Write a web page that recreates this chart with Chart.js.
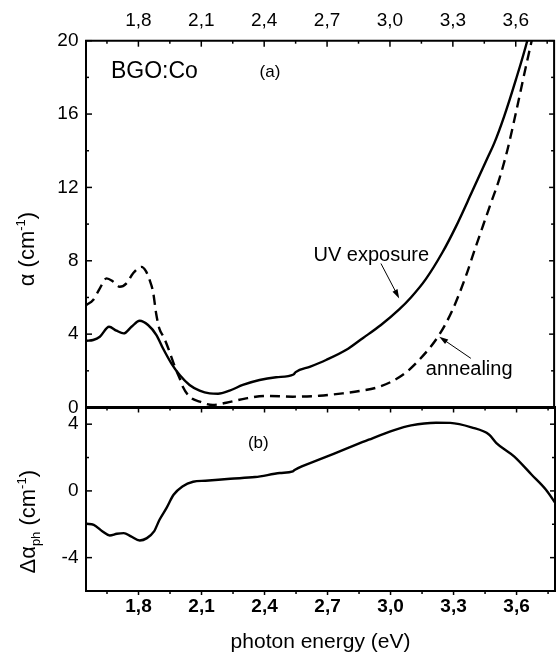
<!DOCTYPE html>
<html lang="en">
<head>
  <meta charset="UTF-8" />
  <title>BGO:Co absorption</title>
  <script src="https://cdn.jsdelivr.net/npm/chart.js"></script>
  <style>
    html, body { margin: 0; padding: 0; background: #fff; }
    .wrap { position: relative; width: 556px; height: 655px; }
    .wrap canvas { position: absolute; left: 0; top: 0; }
  </style>
</head>
<body>
  <div class="wrap">
    <canvas id="top-chart" width="556" height="655"></canvas>
    <canvas id="bottom-chart" width="556" height="655"></canvas>
  </div>

  <script>
    // (a) absorption after UV exposure (solid) and after annealing (dashed), cm^-1
    const energyUV = [1.552, 1.584, 1.616, 1.66, 1.695, 1.73, 1.767, 1.806, 1.846, 1.886, 1.917, 1.957, 1.997, 2.044, 2.092, 2.14, 2.18, 2.235, 2.298, 2.378, 2.457, 2.54, 2.55, 2.62, 2.695, 2.79, 2.87, 2.957, 3.044, 3.1, 3.171, 3.25, 3.314, 3.393, 3.465, 3.497, 3.544, 3.6, 3.655, 3.68];
    const alphaUV = [3.64, 3.68, 3.86, 4.40, 4.19, 4.04, 4.40, 4.73, 4.50, 3.95, 3.23, 2.41, 1.77, 1.23, 0.92, 0.77, 0.75, 0.92, 1.23, 1.50, 1.65, 1.80, 1.93, 2.23, 2.59, 3.13, 3.78, 4.50, 5.35, 6.0, 7.0, 8.45, 9.85, 11.8, 13.6, 14.4, 15.85, 17.85, 20.0, 21.2];

    const energyAnneal = [1.552, 1.584, 1.616, 1.648, 1.68, 1.711, 1.743, 1.774, 1.814, 1.835, 1.855, 1.87, 1.885, 1.9, 1.92, 1.94, 1.965, 1.98, 2.0, 2.012, 2.044, 2.092, 2.155, 2.219, 2.314, 2.41, 2.536, 2.663, 2.774, 2.854, 2.949, 3.06, 3.139, 3.234, 3.298, 3.361, 3.409, 3.445, 3.481, 3.52, 3.56, 3.6, 3.648, 3.676, 3.70];
    const alphaAnneal = [5.59, 5.86, 6.50, 7.04, 6.86, 6.58, 6.77, 7.31, 7.67, 7.45, 6.9, 6.3, 5.1, 4.3, 3.85, 3.3, 2.5, 2.04, 1.5, 1.13, 0.59, 0.32, 0.14, 0.26, 0.5, 0.63, 0.59, 0.64, 0.77, 0.9, 1.13, 1.77, 2.59, 3.95, 5.31, 7.13, 8.76, 9.95, 11.13, 12.4, 14.03, 16.03, 18.57, 20.0, 21.3];

    // (b) photoinduced change
    const energyDiff = [1.553, 1.587, 1.629, 1.663, 1.697, 1.73, 1.764, 1.806, 1.84, 1.874, 1.9, 1.933, 1.967, 2.009, 2.06, 2.119, 2.237, 2.355, 2.473, 2.535, 2.545, 2.659, 2.778, 2.896, 3.014, 3.098, 3.217, 3.284, 3.385, 3.47, 3.504, 3.588, 3.672, 3.74, 3.79];
    const deltaAlpha = [-1.97, -2.03, -2.43, -2.67, -2.57, -2.53, -2.73, -2.97, -2.83, -2.43, -1.73, -1.03, -0.23, 0.27, 0.55, 0.61, 0.73, 0.83, 1.07, 1.17, 1.27, 1.87, 2.47, 3.07, 3.63, 3.93, 4.09, 4.08, 3.81, 3.37, 2.87, 2.07, 0.97, 0.07, -0.83];

    // axes
    const energyMajor = [1.8, 2.1, 2.4, 2.7, 3.0, 3.3, 3.6];
    const energyLabels = ['1,8', '2,1', '2,4', '2,7', '3,0', '3,3', '3,6'];
    const energyMinor = [1.65, 1.95, 2.25, 2.55, 2.85, 3.15, 3.45, 3.75];
    const alphaMajor = [0, 4, 8, 12, 16, 20];
    const alphaMinor = [2, 6, 10, 14, 18];
    const deltaMajor = [-4, 0, 4];
    const deltaMinor = [-2, 2];

    const FONT = '"Liberation Sans", Arial, sans-serif';
    Chart.defaults.font.family = FONT;
    Chart.defaults.color = '#000';

    const E_MIN = 1.55, E_MAX = 3.783;
    const TOP_Y = 40.7, MID_Y = 407.5, BOT_Y = 591, LEFT_X = 86, RIGHT_PAD = 1;

    const pairs = (xs, ys) => xs.map((x, i) => ({x: x, y: ys[i]}));

    function tickSetter(major, minor) {
      return scale => {
        scale.ticks = major.map(v => ({value: v, isMajor: true}))
          .concat(minor.map(v => ({value: v, isMajor: false})))
          .sort((a, b) => a.value - b.value);
      };
    }

    function energyLabel(v) {
      const i = energyMajor.indexOf(v);
      return i < 0 ? '' : energyLabels[i];
    }

    // inward/outward tick marks along an edge
    function tickMarks(ctx, scale, edge, dir, majLen, minLen) {
      const horiz = scale.isHorizontal();
      scale.ticks.forEach(t => {
        const p = scale.getPixelForValue(t.value);
        const len = t.isMajor ? majLen : minLen;
        ctx.beginPath();
        if (horiz) { ctx.moveTo(p, edge); ctx.lineTo(p, edge + dir * len); }
        else { ctx.moveTo(edge, p); ctx.lineTo(edge + dir * len, p); }
        ctx.stroke();
      });
    }

    function axisTitle(ctx, x, yMid, parts) {
      ctx.save();
      let total = 0;
      parts.forEach(p => {
        ctx.font = p.size + 'px ' + FONT;
        p.w = ctx.measureText(p.text).width;
        total += p.w;
      });
      ctx.translate(x, yMid);
      ctx.rotate(-Math.PI / 2);
      ctx.fillStyle = '#000';
      ctx.textBaseline = 'alphabetic';
      let u = -total / 2;
      parts.forEach(p => {
        ctx.font = p.size + 'px ' + FONT;
        ctx.fillText(p.text, u, p.shift || 0);
        u += p.w;
      });
      ctx.restore();
    }

    function arrow(ctx, x1, y1, x2, y2) {
      const ang = Math.atan2(y2 - y1, x2 - x1);
      ctx.beginPath();
      ctx.moveTo(x1, y1);
      ctx.lineTo(x2 - 6 * Math.cos(ang), y2 - 6 * Math.sin(ang));
      ctx.stroke();
      ctx.beginPath();
      ctx.moveTo(x2, y2);
      ctx.lineTo(x2 - 9 * Math.cos(ang) + 2.8 * Math.sin(ang), y2 - 9 * Math.sin(ang) - 2.8 * Math.cos(ang));
      ctx.lineTo(x2 - 9 * Math.cos(ang) - 2.8 * Math.sin(ang), y2 - 9 * Math.sin(ang) + 2.8 * Math.cos(ang));
      ctx.closePath();
      ctx.fill();
    }

    const topNotes = [
      {text: 'BGO:Co', e: 1.669, v: 18.3, size: 23},
      {text: '(a)', e: 2.378, v: 18.3, size: 17},
      {text: 'UV exposure', e: 2.635, v: 8.3, size: 20},
      {text: 'annealing', e: 3.171, v: 2.05, size: 20}
    ];
    const topArrows = [
      {from: [2.957, 7.85], to: [3.044, 5.95]},
      {from: [3.386, 2.68], to: [3.235, 3.86]}
    ];

    const lineStyle = {
      borderColor: '#000',
      borderWidth: 2.4,
      pointRadius: 0,
      fill: false,
      cubicInterpolationMode: 'monotone'
    };

    const energyTicks = (opts) => Object.assign({
      autoSkip: false,
      maxRotation: 0,
      callback: v => energyLabel(v)
    }, opts);

    const topChart = new Chart(document.getElementById('top-chart'), {
      type: 'line',
      data: {
        datasets: [
          Object.assign({label: 'UV exposure', data: pairs(energyUV, alphaUV)}, lineStyle),
          Object.assign({label: 'annealing', data: pairs(energyAnneal, alphaAnneal), borderDash: [10, 6]}, lineStyle)
        ]
      },
      options: {
        responsive: false,
        animation: false,
        devicePixelRatio: 1,
        layout: { padding: { left: 0, right: RIGHT_PAD, top: 0, bottom: 655 - MID_Y } },
        plugins: { legend: { display: false }, tooltip: { enabled: false } },
        scales: {
          x: {
            type: 'linear', position: 'top', min: E_MIN, max: E_MAX,
            afterBuildTicks: tickSetter(energyMajor, energyMinor),
            afterFit: s => { s.height = TOP_Y; },
            grid: { display: false, drawTicks: false },
            border: { display: false },
            ticks: energyTicks({ font: { size: 19 }, padding: 8.8 })
          },
          y: {
            type: 'linear', min: 0, max: 20,
            afterBuildTicks: tickSetter(alphaMajor, alphaMinor),
            afterFit: s => { s.width = LEFT_X; },
            grid: { display: false, drawTicks: false },
            border: { display: false },
            ticks: { font: { size: 19 }, padding: 7.5, callback: (v, i, t) => t[i].isMajor ? String(v) : '' }
          }
        }
      },
      plugins: [{
        id: 'topFrame',
        afterDraw(chart) {
          const {ctx, chartArea: a, scales} = chart;
          ctx.save();
          ctx.strokeStyle = '#000';
          ctx.fillStyle = '#000';
          ctx.lineWidth = 2;
          ctx.beginPath();
          ctx.moveTo(a.left, a.bottom);
          ctx.lineTo(a.left, a.top);
          ctx.lineTo(a.right, a.top);
          ctx.lineTo(a.right, a.bottom);
          ctx.stroke();
          ctx.lineWidth = 1.5;
          tickMarks(ctx, scales.x, a.top, 1, 6, 3);
          tickMarks(ctx, scales.y, a.left, 1, 6, 3);
          tickMarks(ctx, scales.y, a.right, -1, 5, 3);

          ctx.textBaseline = 'middle';
          topNotes.forEach(n => {
            ctx.font = n.size + 'px ' + FONT;
            ctx.fillText(n.text, scales.x.getPixelForValue(n.e), scales.y.getPixelForValue(n.v));
          });
          ctx.lineWidth = 1;
          topArrows.forEach(r => {
            arrow(ctx,
              scales.x.getPixelForValue(r.from[0]), scales.y.getPixelForValue(r.from[1]),
              scales.x.getPixelForValue(r.to[0]), scales.y.getPixelForValue(r.to[1]));
          });

          axisTitle(ctx, 34, scales.y.getPixelForValue(8.64), [
            {text: 'α (cm', size: 22},
            {text: '-1', size: 13, shift: -9},
            {text: ')', size: 22}
          ]);
          ctx.restore();
        }
      }]
    });

    const bottomChart = new Chart(document.getElementById('bottom-chart'), {
      type: 'line',
      data: {
        datasets: [
          Object.assign({label: 'Δα ph', data: pairs(energyDiff, deltaAlpha)}, lineStyle)
        ]
      },
      options: {
        responsive: false,
        animation: false,
        devicePixelRatio: 1,
        layout: { padding: { left: 0, right: RIGHT_PAD, top: MID_Y, bottom: 0 } },
        plugins: { legend: { display: false }, tooltip: { enabled: false } },
        scales: {
          x: {
            type: 'linear', position: 'bottom', min: E_MIN, max: E_MAX,
            afterBuildTicks: tickSetter(energyMajor, energyMinor),
            afterFit: s => { s.height = 655 - BOT_Y; },
            grid: { display: false, drawTicks: false },
            border: { display: false },
            ticks: energyTicks({ font: { size: 19, weight: 'bold' }, padding: 4 }),
            title: { display: true, text: 'photon energy (eV)', font: { size: 21 }, padding: 0 }
          },
          y: {
            type: 'linear', min: -6, max: 5,
            afterBuildTicks: tickSetter(deltaMajor, deltaMinor),
            afterFit: s => { s.width = LEFT_X; },
            grid: { display: false, drawTicks: false },
            border: { display: false },
            ticks: { font: { size: 19 }, padding: 7.5, callback: (v, i, t) => t[i].isMajor ? String(v) : '' }
          }
        }
      },
      plugins: [{
        id: 'bottomFrame',
        afterDraw(chart) {
          const {ctx, chartArea: a, scales} = chart;
          ctx.save();
          ctx.strokeStyle = '#000';
          ctx.fillStyle = '#000';
          ctx.lineWidth = 2;
          ctx.beginPath();
          ctx.moveTo(a.left, a.top);
          ctx.lineTo(a.left, a.bottom);
          ctx.lineTo(a.right, a.bottom);
          ctx.lineTo(a.right, a.top);
          ctx.stroke();
          ctx.lineWidth = 3;
          ctx.beginPath();
          ctx.moveTo(a.left - 1, a.top);
          ctx.lineTo(a.right + 1, a.top);
          ctx.stroke();
          ctx.lineWidth = 1.5;
          tickMarks(ctx, scales.x, a.top, 1, 5, 3);
          tickMarks(ctx, scales.x, a.bottom, 1, 4, 3);
          tickMarks(ctx, scales.y, a.left, 1, 6, 3);
          tickMarks(ctx, scales.y, a.right, -1, 5, 3);

          ctx.textBaseline = 'middle';
          ctx.font = '17px ' + FONT;
          ctx.fillText('(b)', scales.x.getPixelForValue(2.321), scales.y.getPixelForValue(2.87));

          axisTitle(ctx, 35, scales.y.getPixelForValue(-1.85), [
            {text: 'Δα', size: 22},
            {text: 'ph', size: 13, shift: 5},
            {text: ' (cm', size: 22},
            {text: '-1', size: 13, shift: -9},
            {text: ')', size: 22}
          ]);
          ctx.restore();
        }
      }]
    });
  </script>
</body>
</html>
